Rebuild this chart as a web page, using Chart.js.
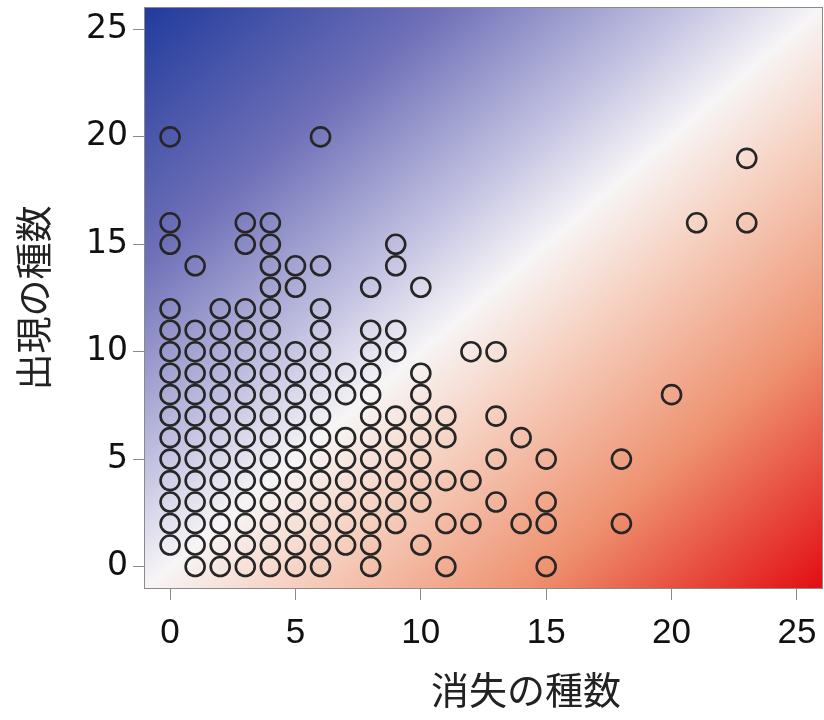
<!DOCTYPE html>
<html>
<head>
<meta charset="utf-8">
<script src="https://cdn.jsdelivr.net/npm/chart.js@4.4.1/dist/chart.umd.min.js"></script>
<style>
  html, body { margin: 0; padding: 0; background: #ffffff; }
</style>
</head>
<body>
<canvas id="speciesChart" width="824" height="720"></canvas>
<script>
// number of species lost (x) and, for each, the gained counts observed (y)
var lostValues = [0, 1, 2, 3, 4, 5, 6, 7, 8, 9, 10, 11, 12, 13, 14, 15, 18, 20, 21, 23];
var gainedByLost = [
    [1, 2, 3, 4, 5, 6, 7, 8, 9, 10, 11, 12, 15, 16, 20],
    [0, 1, 2, 3, 4, 5, 6, 7, 8, 9, 10, 11, 14],
    [0, 1, 2, 3, 4, 5, 6, 7, 8, 9, 10, 11, 12],
    [0, 1, 2, 3, 4, 5, 6, 7, 8, 9, 10, 11, 12, 15, 16],
    [0, 1, 2, 3, 4, 5, 6, 7, 8, 9, 10, 11, 12, 13, 14, 15, 16],
    [0, 1, 2, 3, 4, 5, 6, 7, 8, 9, 10, 13, 14],
    [0, 1, 2, 3, 4, 5, 6, 7, 8, 9, 10, 11, 12, 14, 20],
    [1, 2, 3, 4, 5, 6, 8, 9],
    [0, 1, 2, 3, 4, 5, 6, 7, 8, 9, 10, 11, 13],
    [2, 3, 4, 5, 6, 7, 10, 11, 14, 15],
    [1, 3, 4, 5, 6, 7, 8, 9, 13],
    [0, 2, 4, 6, 7],
    [2, 4, 10],
    [3, 5, 7, 10],
    [2, 6],
    [0, 2, 3, 5],
    [2, 5],
    [8],
    [16],
    [16, 19]
];
var xTicks = [0, 5, 10, 15, 20, 25];
var yTicks = [0, 5, 10, 15, 20, 25];
var xTitle = '消失の種数';
var yTitle = '出現の種数';

var points = [];
lostValues.forEach(function(x, i) {
    gainedByLost[i].forEach(function(y) {
        points.push({ x: x, y: y });
    });
});

// diagonal blue -> white -> red background behind the plot area
var gradientBackground = {
    id: 'gradientBackground',
    beforeDraw: function(chart) {
        var a = chart.chartArea;
        var ctx = chart.ctx;
        var w = a.right - a.left;
        var h = a.bottom - a.top;
        var cx = a.left + w / 2;
        var cy = a.top + h / 2;
        var k = (w * h) / (w * w + h * h);
        var grad = ctx.createLinearGradient(cx - h * k, cy - w * k, cx + h * k, cy + w * k);
        grad.addColorStop(0, '#213b9c');
        grad.addColorStop(0.22, '#6f70b8');
        grad.addColorStop(0.4, '#c4c3e2');
        grad.addColorStop(0.5, '#f7f5f6');
        grad.addColorStop(0.6, '#f6d2c2');
        grad.addColorStop(0.78, '#ee9270');
        grad.addColorStop(1, '#e20d12');
        ctx.save();
        ctx.fillStyle = grad;
        ctx.fillRect(a.left, a.top, w, h);
        ctx.strokeStyle = '#8a8a8a';
        ctx.lineWidth = 1;
        ctx.strokeRect(a.left - 0.5, a.top - 0.5, w + 1, h + 1);
        ctx.restore();
    },
    // x title sits a bit right of the plot centre in the original
    afterDraw: function(chart) {
        var ctx = chart.ctx;
        ctx.save();
        ctx.font = '38px "Noto Sans CJK JP", sans-serif';
        ctx.fillStyle = '#222222';
        ctx.textAlign = 'center';
        ctx.textBaseline = 'middle';
        ctx.fillText(xTitle, 526, 690);
        ctx.restore();
    }
};

var tickFontY = { family: 'DejaVu Sans, Liberation Sans, sans-serif', size: 33 };
var tickFontX = { family: 'Liberation Sans, Arial, sans-serif', size: 35 };

new Chart(document.getElementById('speciesChart'), {
    type: 'scatter',
    data: {
        datasets: [{
            data: points,
            pointStyle: 'circle',
            pointRadius: 9.5,
            pointHoverRadius: 9.5,
            pointBorderWidth: 2.6,
            pointBorderColor: '#262626',
            pointBackgroundColor: 'rgba(0,0,0,0)'
        }]
    },
    options: {
        responsive: false,
        animation: false,
        layout: {
            autoPadding: false,
            padding: { top: 8, right: 2, left: 0, bottom: 0 }
        },
        plugins: {
            legend: { display: false },
            tooltip: { enabled: false }
        },
        scales: {
            x: {
                type: 'linear',
                min: -1,
                max: 26,
                afterBuildTicks: function(scale) {
                    scale.ticks = xTicks.map(function(v) { return { value: v }; });
                },
                afterFit: function(scale) {
                    scale.height = 132;
                    scale.paddingLeft = 0;
                    scale.paddingRight = 0;
                },
                grid: {
                    drawOnChartArea: false,
                    tickLength: 12,
                    color: '#8a8a8a'
                },
                border: { display: false },
                ticks: {
                    font: tickFontX,
                    color: '#111111',
                    padding: 12,
                    maxRotation: 0
                }
            },
            y: {
                type: 'linear',
                min: -1,
                max: 26,
                afterBuildTicks: function(scale) {
                    scale.ticks = yTicks.map(function(v) { return { value: v }; });
                },
                afterFit: function(scale) {
                    scale.width = 145;
                    scale.paddingTop = 0;
                    scale.paddingBottom = 0;
                },
                grid: {
                    drawOnChartArea: false,
                    tickLength: 12,
                    color: '#8a8a8a'
                },
                border: { display: false },
                ticks: {
                    font: tickFontY,
                    color: '#111111',
                    padding: 5
                },
                title: {
                    display: true,
                    text: yTitle,
                    font: { family: 'Noto Sans CJK JP, sans-serif', size: 37 },
                    color: '#222222',
                    padding: { top: 12, bottom: 0 }
                }
            }
        }
    },
    plugins: [gradientBackground]
});
</script>
</body>
</html>
